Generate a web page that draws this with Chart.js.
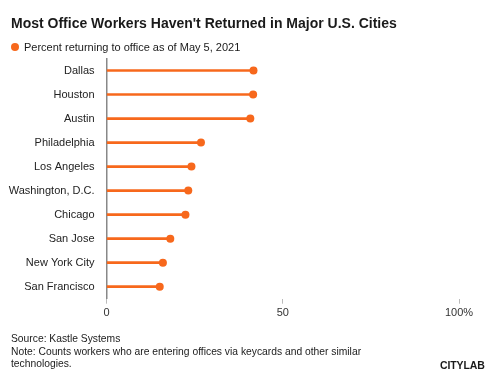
<!DOCTYPE html>
<html>
<head>
<meta charset="utf-8">
<script src="https://cdn.jsdelivr.net/npm/chart.js@4/dist/chart.umd.min.js"></script>
<style>
  html, body { margin: 0; padding: 0; background: #fff; }
  #wrap { position: relative; width: 499px; height: 377px; font-family: "Liberation Sans", Arial, sans-serif; color: #1a1a1a; }
  #chart { position: absolute; left: 0; top: 0; }
  .title { position: absolute; left: 11px; top: 15px; font-size: 14px; font-weight: bold; letter-spacing: 0px; white-space: nowrap; }
  .legend { position: absolute; left: 11px; top: 41px; font-size: 11px; white-space: nowrap; }
  .legend span.dot { display: inline-block; width: 8px; height: 8px; border-radius: 50%; background: #f7681c; margin-right: 5px; vertical-align: -0px; }
  .notes { position: absolute; left: 11px; top: 333px; font-size: 10.3px; line-height: 12.5px; }
  .brand { position: absolute; left: 440px; top: 359px; font-size: 10.5px; font-weight: bold; letter-spacing: -0.1px; }
</style>
</head>
<body>
<div id="wrap">
  <canvas id="chart" width="499" height="377"></canvas>
  <div class="title">Most Office Workers Haven't Returned in Major U.S. Cities</div>
  <div class="legend"><span class="dot"></span>Percent returning to office as of May 5, 2021</div>
  <div class="notes">Source: Kastle Systems<br>Note: Counts workers who are entering offices via keycards and other similar<br>technologies.</div>
  <div class="brand">CITYLAB</div>
</div>
<script>
const cities = ['Dallas', 'Houston', 'Austin', 'Philadelphia', 'Los Angeles', 'Washington, D.C.', 'Chicago', 'San Jose', 'New York City', 'San Francisco'];
const returning = [41.7, 41.6, 40.8, 26.8, 24.1, 23.2, 22.4, 18.1, 16.0, 15.1];
const xTicks = [0, 50, 100];

const orange = '#f7681c';

new Chart(document.getElementById('chart').getContext('2d'), {
    type: 'bar',
    data: {
        labels: cities,
        datasets: [
            {
                type: 'line',
                label: 'dots',
                data: returning,
                showLine: false,
                pointRadius: 4,
                pointHoverRadius: 4,
                pointBackgroundColor: orange,
                pointBorderWidth: 0
            },
            {
                label: 'stems',
                data: returning,
                backgroundColor: orange,
                barThickness: 2
            }
        ]
    },
    options: {
        indexAxis: 'y',
        responsive: false,
        animation: false,
        layout: { padding: { left: 0, right: 40, top: 58.5, bottom: 58.3 } },
        plugins: { legend: { display: false }, tooltip: { enabled: false } },
        scales: {
            x: {
                min: 0,
                max: 100,
                afterBuildTicks: axis => { axis.ticks = xTicks.map(v => ({ value: v })); },
                afterFit: axis => { axis.height = 20; },
                grid: { drawOnChartArea: false, drawTicks: true, tickLength: 5, color: '#bbb' },
                border: { display: false },
                ticks: {
                    padding: 3,
                    color: '#333',
                    font: { family: 'Liberation Sans', size: 11 },
                    maxRotation: 0,
                    callback: v => v === 100 ? '100%' : v
                }
            },
            y: {
                afterFit: axis => { axis.width = 106.5; },
                grid: { display: false, drawTicks: false },
                border: { display: true, color: '#888', width: 1.5 },
                ticks: {
                    padding: 12,
                    color: '#222',
                    font: { family: 'Liberation Sans', size: 11 }
                }
            }
        }
    }
});
</script>
</body>
</html>
